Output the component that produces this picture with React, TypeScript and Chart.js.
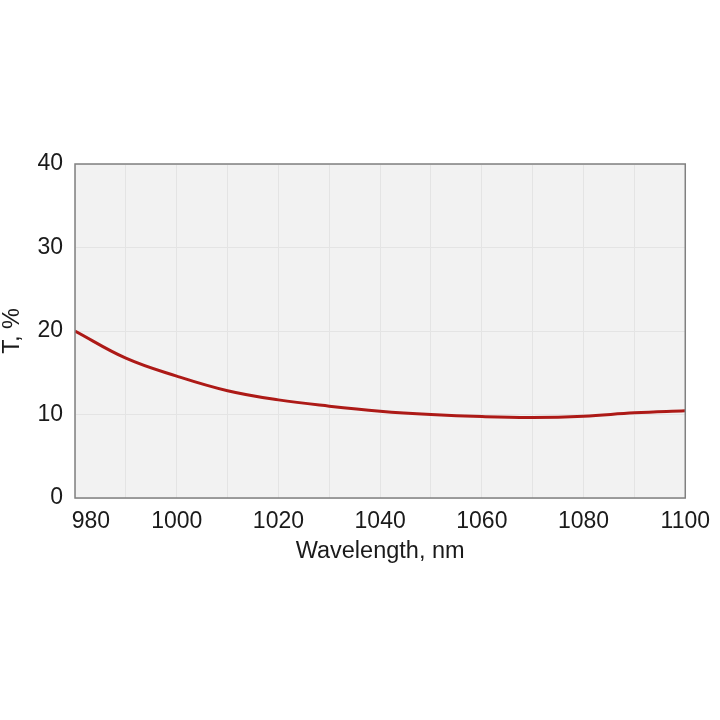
import { useEffect, useRef } from 'react';
import { Chart, registerables } from 'chart.js';

Chart.register(...registerables);

// wavelength (nm) and transmission (%)
const wavelengths = [980, 990, 1000, 1010, 1020, 1030, 1040, 1050, 1060, 1070, 1080, 1090, 1100];
const transmission = [20.0, 16.75, 14.6, 12.85, 11.75, 11.0, 10.4, 10.0, 9.75, 9.65, 9.8, 10.2, 10.45];
const yTicks = [0, 10, 20, 30, 40];

const plotFrame = {
  id: 'plotFrame',
  beforeDraw(chart) {
    const { ctx, chartArea: a } = chart;
    ctx.save();
    ctx.fillStyle = '#f2f2f2';
    ctx.fillRect(a.left, a.top, a.right - a.left, a.bottom - a.top);
    ctx.restore();
  },
  afterDatasetsDraw(chart) {
    const { ctx, chartArea: a } = chart;
    ctx.save();
    ctx.strokeStyle = '#808080';
    ctx.lineWidth = 1.5;
    ctx.strokeRect(a.left, a.top, a.right - a.left, a.bottom - a.top);
    ctx.restore();
  },
};

const App = () => {
  const canvasRef = useRef(null);
  const chartRef = useRef(null);

  useEffect(() => {
    if (chartRef.current) chartRef.current.destroy();
    const ctx = canvasRef.current.getContext('2d');
    const family = 'Liberation Sans, Arial, sans-serif';
    const tickFont = { family, size: 23 };
    const titleFont = { family, size: 23.5, lineHeight: 1 };

    chartRef.current = new Chart(ctx, {
      type: 'line',
      data: {
        datasets: [{
          data: wavelengths.map((w, i) => ({ x: w, y: transmission[i] })),
          borderColor: '#ad1a17',
          borderWidth: 3,
          pointRadius: 0,
          tension: 0.4,
        }],
      },
      plugins: [plotFrame],
      options: {
        animation: false,
        responsive: false,
        layout: { padding: { left: 0, top: 164, right: 34, bottom: 154 } },
        plugins: { legend: { display: false }, tooltip: { enabled: false } },
        scales: {
          x: {
            type: 'linear',
            min: 980,
            max: 1100,
            afterFit: (s) => { s.height = 68; },
            border: { display: false },
            grid: { color: '#e4e4e4', drawTicks: false },
            ticks: {
              stepSize: 10,
              autoSkip: false,
              maxRotation: 0,
              padding: 10,
              color: '#1a1a1a',
              font: tickFont,
              callback: (v) => (v % 20 === 0 ? (v === 980 ? '     980' : String(v)) : ''),
            },
            title: {
              display: true,
              text: 'Wavelength, nm',
              color: '#1a1a1a',
              font: titleFont,
              padding: { top: 0, bottom: 3 },
            },
          },
          y: {
            min: 0,
            max: 40,
            afterFit: (s) => { s.width = 75; },
            afterBuildTicks: (s) => { s.ticks = yTicks.map((v) => ({ value: v })); },
            border: { display: false },
            grid: { color: '#e4e4e4', drawTicks: false },
            ticks: { padding: 12, color: '#1a1a1a', font: tickFont },
            title: {
              display: true,
              text: 'T, %',
              color: '#1a1a1a',
              font: titleFont,
              padding: { top: 1, bottom: 0 },
            },
          },
        },
      },
    });

    return () => {
      if (chartRef.current) {
        chartRef.current.destroy();
        chartRef.current = null;
      }
    };
  }, []);

  return (
    <div style={{ position: 'absolute', left: 0, top: 0, width: 720, height: 720, background: '#fff' }}>
      <canvas ref={canvasRef} width={720} height={720} style={{ width: 720, height: 720 }}></canvas>
    </div>
  );
};

export default App;
